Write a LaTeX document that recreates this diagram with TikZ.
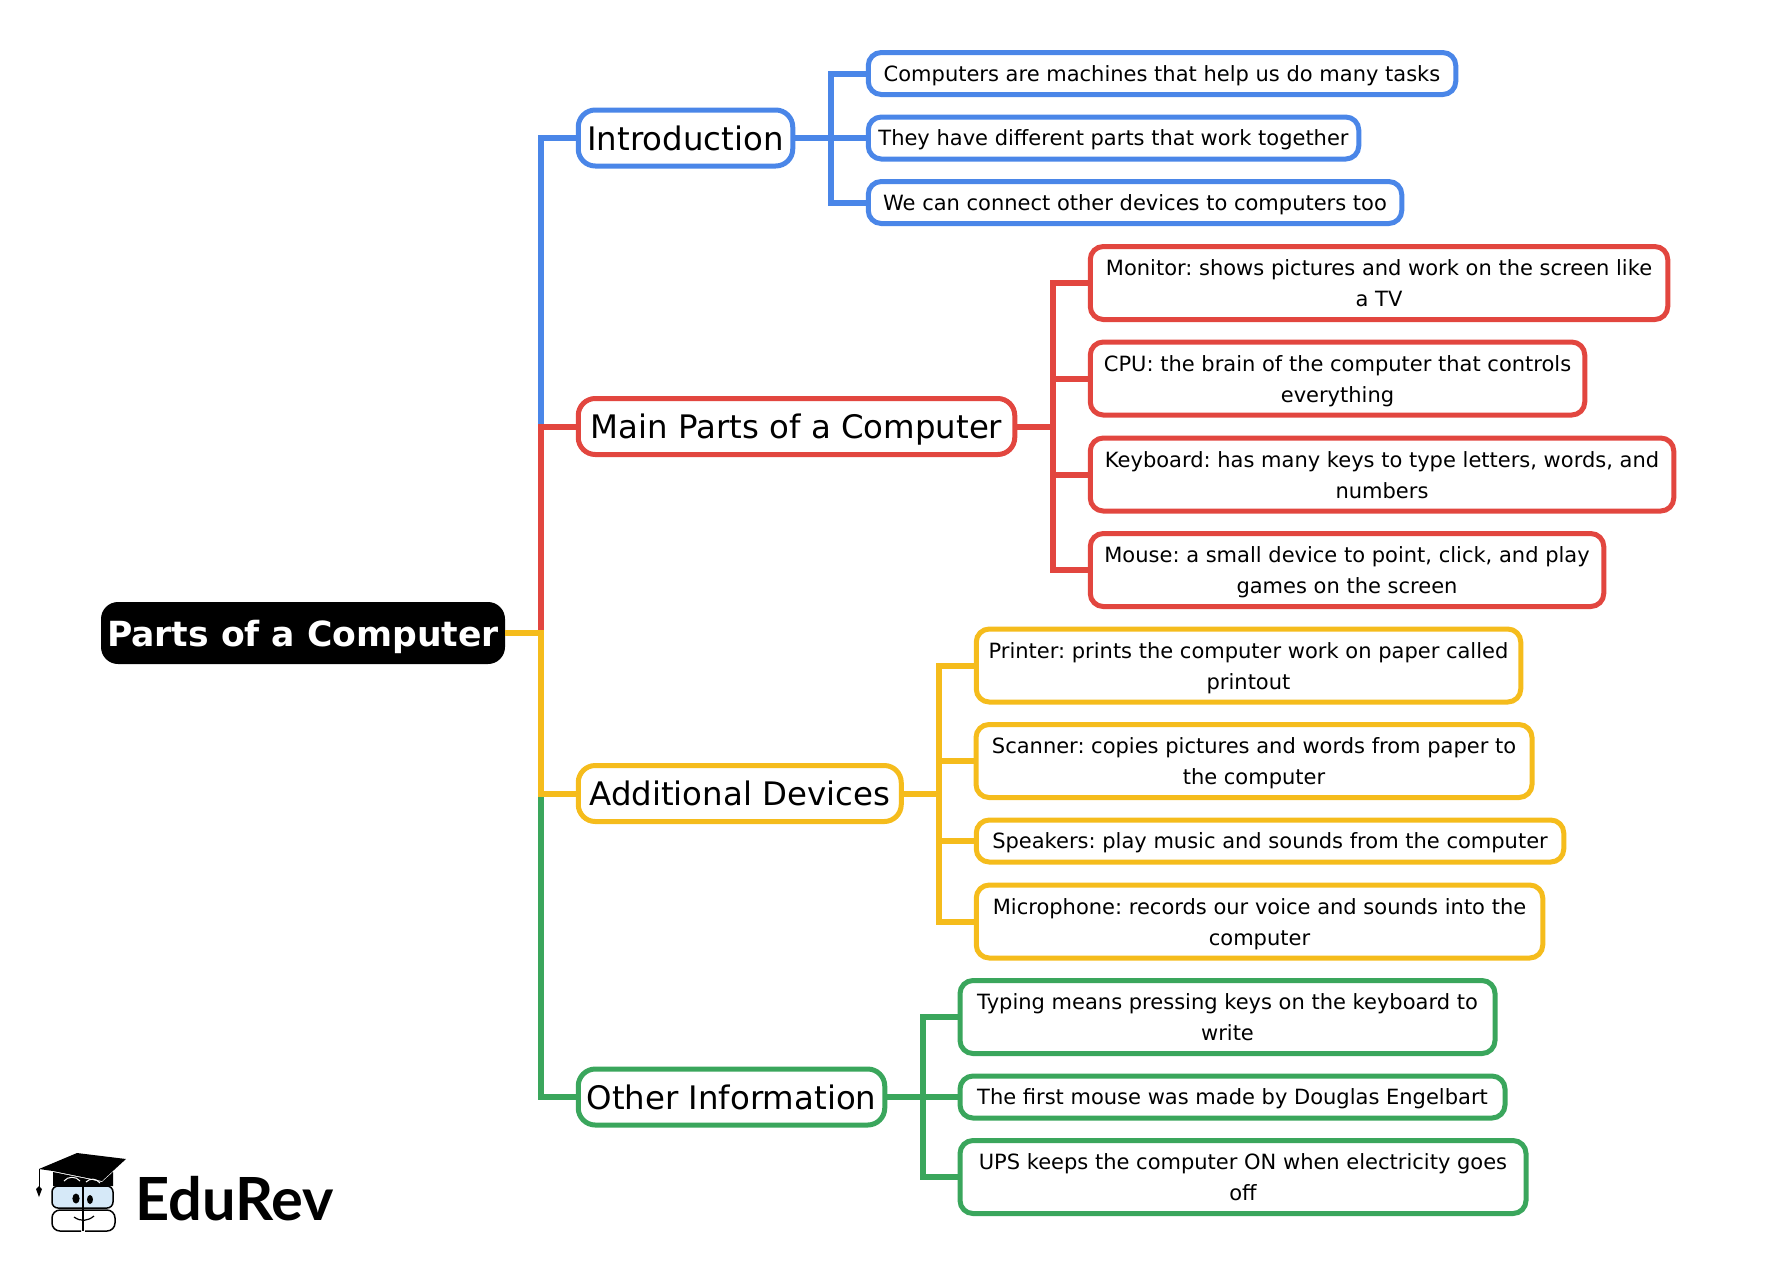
\documentclass[tikz,border=0pt]{standalone}
\usepackage{fontspec}
\setmainfont{DejaVu Sans}
\newfontfamily\brandfont{Lato}
\usepackage{tikz}
\definecolor{cblue}{HTML}{4A86E8}
\definecolor{cred}{HTML}{E2463F}
\definecolor{cyellow}{HTML}{F5BC1C}
\definecolor{cgreen}{HTML}{3AA65C}
\definecolor{clens}{HTML}{D6E9F8}
\tikzset{
  center/.style={
    fill=black, text=white, rounded corners=17pt, inner sep=0pt,
    font=\fontsize{34.6}{40}\selectfont\bfseries,
    text height=26pt, text depth=0pt,
    minimum width=404pt, minimum height=62pt,
  },
  branch/.style={
    draw=#1, line width=5pt, fill=white, rounded corners=17pt, inner sep=0pt,
    font=\fontsize{32.4}{40}\selectfont,
    text height=24pt, text depth=0pt,
    minimum height=56pt,
  },
  leaf/.style={
    draw=#1, line width=5pt, fill=white, rounded corners=13pt, inner sep=0pt,
    align=center, font=\fontsize{21}{31}\selectfont,
    text height=15.6pt, text depth=0pt,
    minimum height=42pt,
  },
  tall/.style={minimum height=73pt, text height=47pt},
  link/.style={draw=#1, line width=6pt},
}
\begin{document}
\frenchspacing
\begin{tikzpicture}[x=1pt,y=-1pt]
  \useasboundingbox (0,0) rectangle (1777,1267);
  % root
  \node[center] (root) at (303,633) {Parts of a Computer};
  % branches
  \node[branch=cblue,minimum width=214.5pt] (intro) at (685.5,138) {Introduction};
  \node[branch=cred,minimum width=436.5pt] (main) at (796.5,426.5) {Main Parts of a Computer};
  \node[branch=cyellow,minimum width=323pt] (extra) at (739.75,793.5) {Additional Devices};
  \node[branch=cgreen,minimum width=306.5pt] (other) at (731.5,1097) {Other Information};
  % leaves
  \node[leaf=cblue,minimum width=587.5pt] (tasks) at (1162,73.5) {Computers are machines that help us do many tasks};
  \node[leaf=cblue,minimum width=490.5pt] (parts) at (1113.5,138) {They have different parts that work together};
  \node[leaf=cblue,minimum width=533.5pt] (connect) at (1135,202.5) {We can connect other devices to computers too};

  \node[leaf=cred,tall,minimum width=577.5pt] (monitor) at (1379,283) {Monitor: shows pictures and work on the screen like\\a TV};
  \node[leaf=cred,tall,minimum width=494.5pt] (cpu) at (1337.5,378.5) {CPU: the brain of the computer that controls\\everything};
  \node[leaf=cred,tall,minimum width=583.5pt] (keyboard) at (1382,474.5) {Keyboard: has many keys to type letters, words, and\\numbers};
  \node[leaf=cred,tall,minimum width=513.5pt] (mouse) at (1347,570) {Mouse: a small device to point, click, and play\\games on the screen};

  \node[leaf=cyellow,tall,minimum width=544.5pt] (printer) at (1248.5,665.5) {Printer: prints the computer work on paper called\\printout};
  \node[leaf=cyellow,tall,minimum width=556pt] (scanner) at (1254,761) {Scanner: copies pictures and words from paper to\\the computer};
  \node[leaf=cyellow,minimum width=587.5pt] (speakers) at (1270,841) {Speakers: play music and sounds from the computer};
  \node[leaf=cyellow,tall,minimum width=566.5pt] (microphone) at (1259.5,921.5) {Microphone: records our voice and sounds into the\\computer};

  \node[leaf=cgreen,tall,minimum width=535pt] (typing) at (1227.5,1017) {Typing means pressing keys on the keyboard to\\write};
  \node[leaf=cgreen,minimum width=545pt] (engelbart) at (1232.5,1097) {The first mouse was made by Douglas Engelbart};
  \node[leaf=cgreen,tall,minimum width=566pt] (ups) at (1243,1177) {UPS keeps the computer ON when electricity goes\\off};

  % forks
  \coordinate (trunk) at (540.5,633);
  \coordinate (fintro) at (831,138);
  \coordinate (fmain) at (1053,426.5);
  \coordinate (fextra) at (939,793.5);
  \coordinate (fother) at (923,1097);

  % root to branches
  \draw[link=cblue] (root.east) -- (trunk) |- (intro.west);
  \draw[link=cred] (root.east) -- (trunk) |- (main.west);
  \draw[link=cgreen] (root.east) -- (trunk) |- (other.west);
  \draw[link=cyellow] (root.east) -- (trunk) |- (extra.west);

  % branches to leaves
  \draw[link=cblue] (intro.east) -- (fintro) |- (tasks.west);
  \draw[link=cblue] (intro.east) -- (fintro) |- (parts.west);
  \draw[link=cblue] (intro.east) -- (fintro) |- (connect.west);

  \draw[link=cred] (main.east) -- (fmain) |- (monitor.west);
  \draw[link=cred] (main.east) -- (fmain) |- (cpu.west);
  \draw[link=cred] (main.east) -- (fmain) |- (keyboard.west);
  \draw[link=cred] (main.east) -- (fmain) |- (mouse.west);

  \draw[link=cyellow] (extra.east) -- (fextra) |- (printer.west);
  \draw[link=cyellow] (extra.east) -- (fextra) |- (scanner.west);
  \draw[link=cyellow] (extra.east) -- (fextra) |- (speakers.west);
  \draw[link=cyellow] (extra.east) -- (fextra) |- (microphone.west);

  \draw[link=cgreen] (other.east) -- (fother) |- (typing.west);
  \draw[link=cgreen] (other.east) -- (fother) |- (engelbart.west);
  \draw[link=cgreen] (other.east) -- (fother) |- (ups.west);

  % logo
  \node[anchor=west,inner sep=0pt,font=\fontsize{59.5}{60}\selectfont\brandfont\bfseries] (brand) at (135,1199) {EduRev};
  % cap
  \fill (39,1169) -- (77,1153) -- (126,1159) -- (102,1181) -- (53,1171) -- cycle;
  \fill (53,1172) -- (102,1182) -- (113,1172) -- (113,1186) -- (53,1186) -- cycle;
  \draw[white,line width=1pt] (64,1181) .. controls (68,1176) and (76,1176) .. (80,1181);
  \draw[white,line width=1pt] (86,1182) .. controls (90,1178) and (96,1178) .. (100,1183);
  \draw[line width=1pt] (39,1169) -- (39,1188);
  \fill (39,1197) -- (36,1189) -- (39,1186) -- (42,1189) -- cycle;
  % glasses
  \draw[line width=1.5pt,fill=clens,rounded corners=6pt] (52,1186) rectangle (113,1208);
  \draw[line width=1.5pt] (83,1185) -- (83,1231);
  \fill (76,1198.5) ellipse (3.6pt and 5pt);
  \fill (90,1199.5) ellipse (3pt and 4.5pt);
  % face
  \draw[line width=1.5pt,rounded corners=8pt] (83,1210) -- (52,1210) -- (52,1231) -- (81,1231);
  \draw[line width=1.5pt,rounded corners=8pt] (83,1210) -- (115,1210) -- (115,1231) -- (85,1231);
  \draw[line width=1.2pt] (74,1217) .. controls (81,1222) and (88,1221) .. (94,1216);
\end{tikzpicture}
\end{document}
